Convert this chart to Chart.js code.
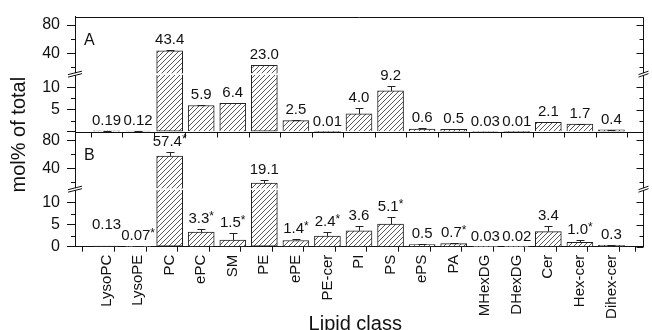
<!DOCTYPE html>
<html>
<head>
<meta charset="utf-8">
<script src="https://cdn.jsdelivr.net/npm/chart.js@4.4.1/dist/chart.umd.min.js"></script>
<style>
  html, body { margin: 0; padding: 0; background: #fff; }
</style>
</head>
<body>
<canvas id="chart" width="652" height="330"></canvas>
<script>
// ── Data ──────────────────────────────────────────────────────────────────────
const categories = ['LysoPC', 'LysoPE', 'PC', 'ePC', 'SM', 'PE', 'ePE', 'PE-cer', 'PI', 'PS',
                    'ePS', 'PA', 'MHexDG', 'DHexDG', 'Cer', 'Hex-cer', 'Dihex-cer'];

const valuesA = [0.19, 0.12, 43.4, 5.9, 6.4, 23.0, 2.5, 0.01, 4.0, 9.2, 0.6, 0.5, 0.03, 0.01, 2.1, 1.7, 0.4];
const errorsA = [0.02, 0.02, 1.0, 0.15, 0.15, 0.3, 0.1, 0, 1.3, 1.2, 0.15, 0.1, 0, 0, 0.1, 0.1, 0.05];
const labelsA = ['0.19', '0.12', '43.4', '5.9', '6.4', '23.0', '2.5', '0.01', '4.0', '9.2',
                 '0.6', '0.5', '0.03', '0.01', '2.1', '1.7', '0.4'];

const valuesB = [0.13, 0.07, 57.4, 3.3, 1.5, 19.1, 1.4, 2.4, 3.6, 5.1, 0.5, 0.7, 0.03, 0.02, 3.4, 1.0, 0.3];
const errorsB = [0.02, 0.01, 5.5, 0.6, 1.5, 4.0, 0.4, 0.9, 1.0, 1.6, 0.2, 0.15, 0, 0, 1.2, 0.5, 0.05];
const labelsB = ['0.13', '0.07*', '57.4*', '3.3*', '1.5*', '19.1', '1.4*', '2.4*', '3.6', '5.1*',
                 '0.5', '0.7*', '0.03', '0.02', '3.4', '1.0*', '0.3'];

// broken y axis: lower and upper segment of each panel
const LOW  = { min: 0, max: 13 };
const HIGH = { min: 10.5, max: 92 };
const lowTicks   = [0, 5, 10];
const lowMinor   = [2.5, 7.5];
const highTicks  = [40, 80];
const highMinor  = [20, 60];

const INK = '#111';
const FONT = "'Liberation Sans', Arial, sans-serif";

Chart.defaults.font.family = FONT;
Chart.defaults.color = INK;

// ── Hatch fill ────────────────────────────────────────────────────────────────
function hatch() {
  const c = document.createElement('canvas');
  c.width = 5; c.height = 5;
  const g = c.getContext('2d');
  g.fillStyle = '#fff';
  g.fillRect(0, 0, 5, 5);
  g.strokeStyle = '#444';
  g.lineWidth = 0.9;
  g.beginPath();
  g.moveTo(0, 5); g.lineTo(5, 0);
  g.moveTo(-1, 1); g.lineTo(1, -1);
  g.moveTo(4, 6); g.lineTo(6, 4);
  g.stroke();
  return g.createPattern(c, 'repeat');
}
const pattern = hatch();

// ── Datasets ──────────────────────────────────────────────────────────────────
const panels = [
  { values: valuesA, errors: errorsA, labels: labelsA, low: 'yALow', high: 'yAHigh', letter: 'A' },
  { values: valuesB, errors: errorsB, labels: labelsB, low: 'yBLow', high: 'yBHigh', letter: 'B' },
];

function barSet(values, axis, upper) {
  return {
    data: values.map((v, i) => ({ x: i, y: upper ? (v > HIGH.min ? v : null) : Math.min(v, LOW.max) })),
    yAxisID: axis,
    grouped: false,
    barThickness: 26,
    backgroundColor: pattern,
    borderColor: '#222',
    borderWidth: 1,
    borderSkipped: upper ? 'start' : (c => values[c.dataIndex] > LOW.max ? 'end' : 'start'),
  };
}

const datasets = [];
panels.forEach(p => {
  datasets.push(barSet(p.values, p.low, false));
  datasets.push(barSet(p.values, p.high, true));
});

// ── Scales ────────────────────────────────────────────────────────────────────
function yAxis(range, major, hideZero) {
  return {
    type: 'linear',
    position: 'left',
    stack: 'panels',
    stackWeight: 1,
    min: range.min,
    max: range.max,
    afterBuildTicks: s => { s.ticks = major.map(v => ({ value: v })); },
    ticks: {
      autoSkip: false,
      padding: 7,
      font: { size: 16 },
      color: INK,
      callback: v => (hideZero && v === 0) ? '' : String(v),
    },
    grid: { drawOnChartArea: false, tickLength: 8, tickColor: INK, tickWidth: 1 },
    border: { color: INK, width: 1 },
    afterFit: s => { s.width = 75; },
  };
}

const xTickValues = [];
for (let v = -0.5; v <= categories.length - 0.5; v += 0.5) xTickValues.push(v);

const scales = {
  x: {
    type: 'linear',
    min: -1,
    max: categories.length,
    offset: false,
    afterBuildTicks: s => { s.ticks = xTickValues.map(v => ({ value: v })); },
    ticks: {
      autoSkip: false,
      minRotation: 90,
      maxRotation: 90,
      padding: 3,
      font: { size: 15 },
      color: INK,
      callback: v => Number.isInteger(v) ? categories[v] : '',
    },
    grid: {
      drawOnChartArea: false,
      tickLength: 5,
      tickColor: c => (c.tick && Number.isInteger(c.tick.value)) ? 'rgba(0,0,0,0)' : INK,
    },
    border: { color: INK, width: 1 },
    afterFit: s => { s.height = 83.3; },
  },
  // listed bottom-most first
  yBLow:  yAxis(LOW, lowTicks, false),
  yBHigh: yAxis(HIGH, highTicks, false),
  yALow:  yAxis(LOW, lowTicks, true),
  yAHigh: yAxis(HIGH, highTicks, false),
};

// ── Value labels ──────────────────────────────────────────────────────────────
function labelWidths(ctx, text) {
  const star = text.endsWith('*');
  const num = star ? text.slice(0, -1) : text;
  ctx.font = `15px ${FONT}`;
  const wn = ctx.measureText(num).width;
  ctx.font = `12px ${FONT}`;
  const ws = star ? ctx.measureText('*').width : 0;
  return { num, star, wn, ws, w: wn + ws };
}

function drawValueLabel(ctx, text, x, y) {
  const m = labelWidths(ctx, text);
  const left = x - m.w / 2;
  ctx.textAlign = 'left';
  ctx.textBaseline = 'alphabetic';
  ctx.font = `15px ${FONT}`;
  ctx.fillText(m.num, left, y);
  if (m.star) {
    ctx.font = `12px ${FONT}`;
    ctx.fillText('*', left + m.wn, y - 3);
  }
}

// ── Plugins: error bars, value labels, frame, breaks, titles ─────────────────
const overlay = {
  id: 'overlay',
  afterDatasetsDraw(chart) {
    const ctx = chart.ctx;
    const area = chart.chartArea;
    const xs = chart.scales.x;
    ctx.save();
    // white gap across the bars at each axis break
    panels.forEach(p => {
      const yb = chart.scales[p.high].bottom;
      ctx.fillStyle = '#fff';
      ctx.fillRect(area.left + 1, yb - 0.8, area.right - area.left - 2, 1.6);
    });
    ctx.fillStyle = INK;
    ctx.strokeStyle = '#222';
    ctx.lineWidth = 1;
    panels.forEach(p => {
      const items = p.values.map((v, i) => {
        const s = chart.scales[v > LOW.max ? p.high : p.low];
        const x = xs.getPixelForValue(i);
        const y0 = s.getPixelForValue(v);
        const y1 = s.getPixelForValue(v + p.errors[i]);
        const w = labelWidths(ctx, p.labels[i]).w;
        return { x, y0, y1, w, ly: y1 - 6 };
      });
      // lift a label when it would run into its right-hand neighbour
      for (let i = items.length - 2; i >= 0; i--) {
        const a = items[i], b = items[i + 1];
        const gap = (b.x - b.w / 2) - (a.x + a.w / 2);
        if (gap < 2 && Math.abs(a.ly - b.ly) < 12) a.ly = b.ly - 11;
      }
      items.forEach((it, i) => {
        if (p.errors[i] > 0) {
          const px = Math.round(it.x) + 0.5;
          const yt = Math.round(it.y1) + 0.5;
          ctx.beginPath();
          ctx.moveTo(px, it.y0);
          ctx.lineTo(px, yt);
          ctx.moveTo(px - 4, yt);
          ctx.lineTo(px + 4, yt);
          ctx.stroke();
        }
        drawValueLabel(ctx, p.labels[i], it.x, it.ly);
      });
    });
    ctx.restore();
  },
  afterDraw(chart) {
    const ctx = chart.ctx;
    const area = chart.chartArea;
    const xs = chart.scales.x;
    const L = area.left, R = Math.round(area.right) + 0.5;
    ctx.save();
    ctx.strokeStyle = INK;
    ctx.lineWidth = 1;

    // top and right frame
    const top = Math.round(area.top) + 0.5;
    ctx.beginPath();
    ctx.moveTo(L, top); ctx.lineTo(R, top);
    ctx.moveTo(R, top); ctx.lineTo(R, area.bottom);
    ctx.stroke();

    // divider between panels with ticks
    const yd = Math.round(chart.scales.yALow.bottom) + 0.5;
    ctx.beginPath();
    ctx.moveTo(L, yd); ctx.lineTo(R, yd);
    xTickValues.filter(v => !Number.isInteger(v)).forEach(v => {
      const px = Math.round(xs.getPixelForValue(v)) + 0.5;
      ctx.moveTo(px, yd); ctx.lineTo(px, yd + 5);
    });
    ctx.stroke();

    // minor ticks (left, outward) and all ticks on the right (inward)
    ctx.beginPath();
    panels.forEach(p => {
      [[p.low, lowTicks, lowMinor], [p.high, highTicks, highMinor]].forEach(([id, major, minor]) => {
        const s = chart.scales[id];
        minor.forEach(v => {
          const y = Math.round(s.getPixelForValue(v)) + 0.5;
          ctx.moveTo(L - 4, y); ctx.lineTo(L, y);
          ctx.moveTo(R - 4, y); ctx.lineTo(R, y);
        });
        major.forEach(v => {
          const y = Math.round(s.getPixelForValue(v)) + 0.5;
          ctx.moveTo(R - 7, y); ctx.lineTo(R, y);
        });
      });
    });
    ctx.stroke();

    // break marks
    panels.forEach(p => {
      const yb = chart.scales[p.high].bottom;
      [[L, 7], [R, 5]].forEach(([x, w]) => {
        ctx.fillStyle = '#fff';
        ctx.fillRect(x - 1.5, yb - 1, 3, 2);
        ctx.beginPath();
        ctx.moveTo(x - w, yb + 0.5); ctx.lineTo(x + w, yb - 3);
        ctx.moveTo(x - w, yb + 3); ctx.lineTo(x + w, yb - 0.5);
        ctx.stroke();
      });
    });

    // panel letters
    ctx.fillStyle = INK;
    ctx.textAlign = 'left';
    ctx.textBaseline = 'alphabetic';
    ctx.font = `16px ${FONT}`;
    panels.forEach(p => {
      ctx.fillText(p.letter, L + 9, chart.scales[p.high].top + 28.5);
    });

    // axis titles
    ctx.font = `20px ${FONT}`;
    ctx.textAlign = 'center';
    ctx.fillText('Lipid class', (L + R) / 2 - 4, chart.height);
    ctx.translate(25, (area.top + area.bottom) / 2 + 3);
    ctx.rotate(-Math.PI / 2);
    ctx.fillText('mol% of total', 0, 0);
    ctx.restore();
  },
};

new Chart(document.getElementById('chart'), {
  type: 'bar',
  data: { datasets },
  options: {
    responsive: false,
    animation: false,
    layout: { padding: { top: 13, right: 9, left: 0, bottom: 0 } },
    plugins: { legend: { display: false }, tooltip: { enabled: false } },
    scales,
  },
  plugins: [overlay],
});
</script>
</body>
</html>
